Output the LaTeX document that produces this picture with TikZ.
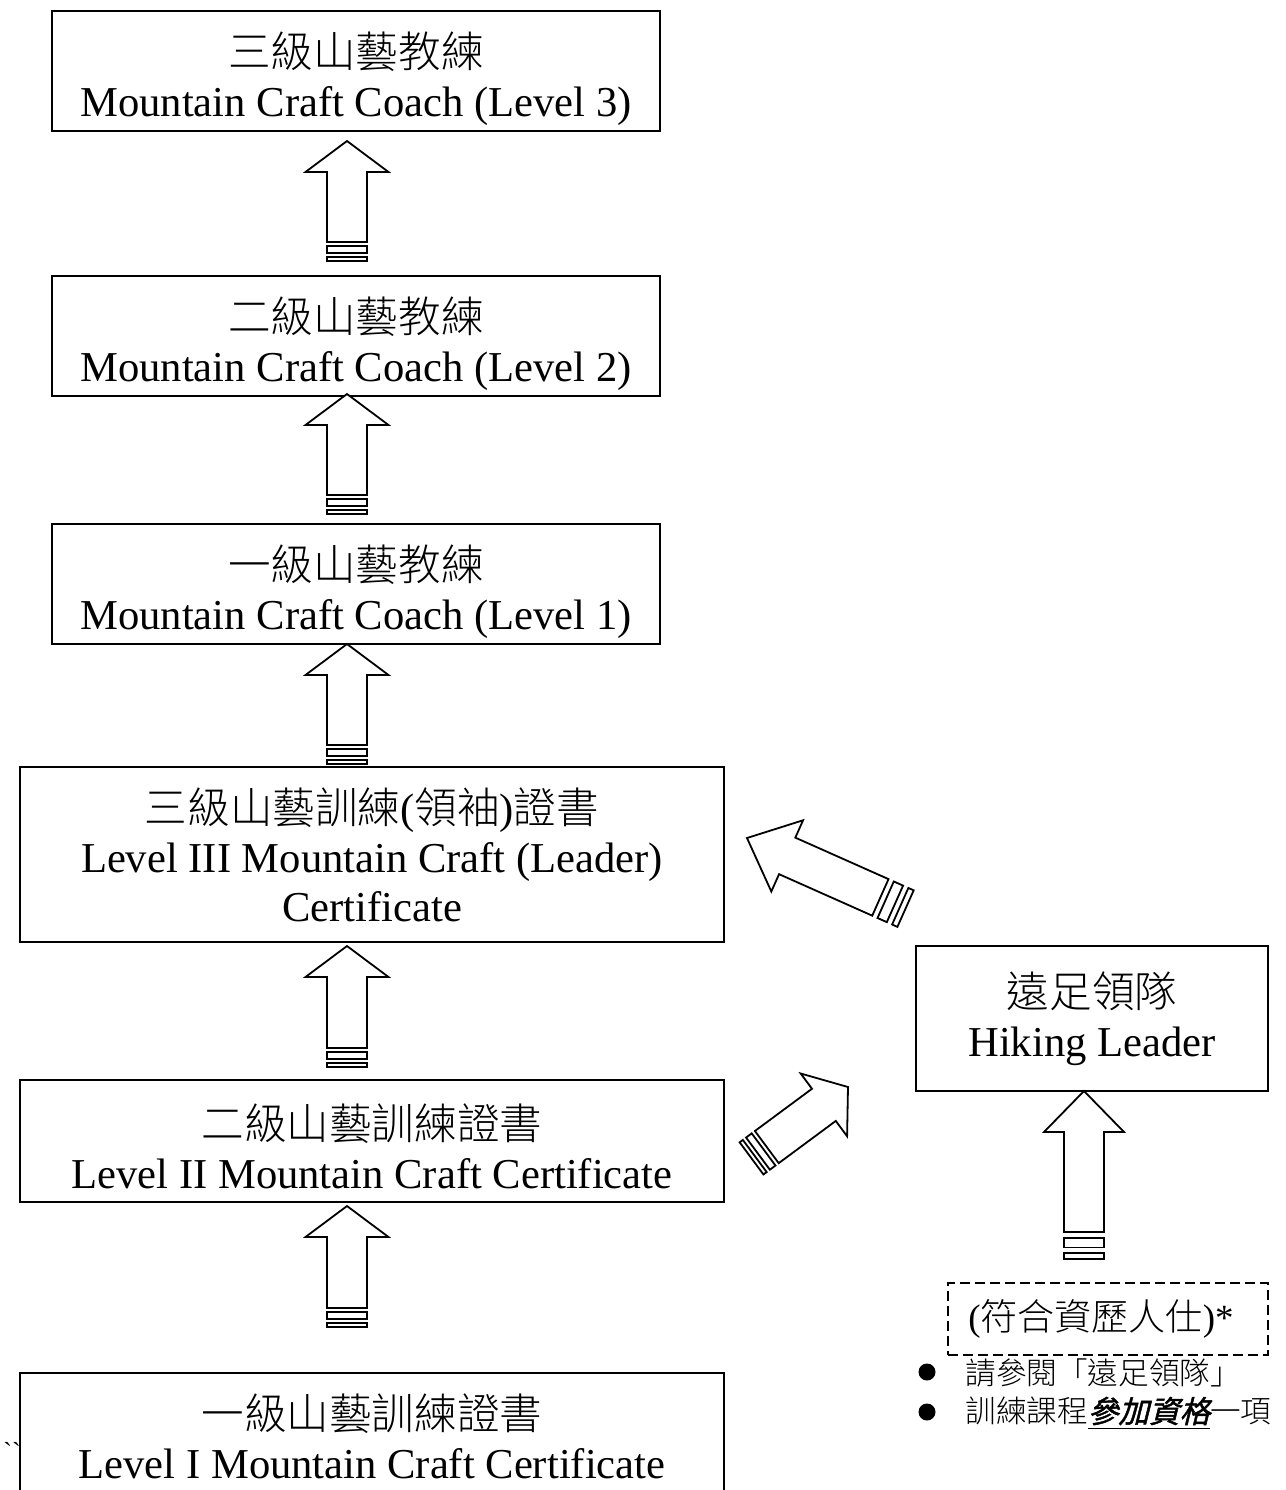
\documentclass[tikz,border=0pt]{standalone}
\usepackage{fontspec}
\usepackage{tikz}
\setmainfont{Liberation Serif}
\newfontfamily\cjk{Noto Sans CJK TC Light}
\newfontfamily\cjkemph{Noto Sans CJK TC}[FakeBold=1.5,FakeSlant=0.25]

\tikzset{
  box/.style={draw, line width=0.9pt, align=center, inner sep=0pt,
    font=\fontsize{21.3}{24.5}\selectfont},
  qualbox/.style={draw, line width=0.9pt, dash pattern=on 5pt off 2.5pt,
    inner sep=0pt, font=\fontsize{18.5}{22}\selectfont},
  notetext/.style={anchor=west, inner sep=0pt, font=\fontsize{15.3}{18}\selectfont\cjk},
  bullet/.style={circle, fill, inner sep=0pt, minimum size=8.5pt},
  arrowline/.style={line width=0.9pt, fill=white},
  % block arrow: head length, head half width, shaft length, stripe factor
  pics/blockarrow/.style n args={4}{code={
    \draw[arrowline] (0,0) -- (#2,#1) -- (20,#1) -- (20,#1+#3) -- (-20,#1+#3)
      -- (-20,#1) -- (-#2,#1) -- cycle;
    \draw[arrowline] (-20,#1+#3+4*#4) rectangle (20,#1+#3+11*#4);
    \draw[arrowline] (-20,#1+#3+15*#4) rectangle (20,#1+#3+19*#4);
  }}
}
% pushes the text of a box down a little
\newcommand{\lowerby}[1]{\rule{0pt}{#1}}

\begin{document}
\begin{tikzpicture}[x=0.5pt, y=-0.5pt]
  \clip[use as bounding box] (0,0) rectangle (1286,1490);

  % Coach levels
  \node[box, minimum width=304pt, minimum height=60pt] (coach3) at (356,71)
    {\lowerby{26pt}{\cjk 三級山藝教練}\\Mountain Craft Coach (Level 3)};
  \node[box, minimum width=304pt, minimum height=60pt] (coach2) at (356,336)
    {\lowerby{26pt}{\cjk 二級山藝教練}\\Mountain Craft Coach (Level 2)};
  \node[box, minimum width=304pt, minimum height=60pt] (coach1) at (356,584)
    {\lowerby{26pt}{\cjk 一級山藝教練}\\Mountain Craft Coach (Level 1)};

  % Certificates
  \node[box, minimum width=352pt, minimum height=87.5pt] (cert3) at (372,854.5)
    {{\cjk 三級山藝訓練}({\cjk 領袖}){\cjk 證書}\\Level III Mountain Craft (Leader)\\Certificate};
  \node[box, minimum width=352pt, minimum height=61pt] (cert2) at (372,1141)
    {\lowerby{23pt}{\cjk 二級山藝訓練證書}\\Level II Mountain Craft Certificate};
  \node[box, minimum width=352pt, minimum height=63.5pt] (cert1) at (372,1436.5)
    {{\cjk 一級山藝訓練證書}\\Level I Mountain Craft Certificate};
  \node[anchor=base west, inner sep=0pt, font=\fontsize{13}{14}\selectfont] (tick) at (3,1460)
    {\textasciigrave\textasciigrave};

  % Hiking leader
  \node[box, minimum width=176pt, minimum height=72.5pt] (hiking) at (1092,1018.5)
    {{\cjk 遠足領隊}\\Hiking Leader};
  \node[qualbox, minimum width=160pt, minimum height=36pt] (qualified) at (1108,1319)
    {({\cjk 符合資歷人仕})*\kern7pt};

  % Notes
  \node[bullet] (bul1) at (927,1372) {};
  \node[bullet] (bul2) at (927,1412) {};
  \node[notetext] (note1) at (965,1373) {請參閱「遠足領隊」};
  \node[notetext] (note2) at (965,1413)
    {訓練課程\underline{\cjkemph 參加資格}一項};

  % Arrow tips
  \coordinate (to-coach3) at (347,141);
  \coordinate (to-coach2) at (347,394);
  \coordinate (to-coach1) at (347,644);
  \coordinate (to-cert3) at (347,946);
  \coordinate (to-cert2) at (347,1206);
  \coordinate (to-hiking) at (1084,1091);
  \coordinate (hiking-cert3) at (747,838);
  \coordinate (cert2-hiking) at (848,1087);

  % Block arrows
  \pic at (to-coach3) {blockarrow={31}{41.5}{70}{1}};
  \pic at (to-coach2) {blockarrow={31}{41.5}{70}{1}};
  \pic at (to-coach1) {blockarrow={31}{41.5}{70}{1}};
  \pic at (to-cert3) {blockarrow={31}{41.5}{71}{1}};
  \pic at (to-cert2) {blockarrow={31}{41.5}{71}{1}};
  \pic at (to-hiking) {blockarrow={41}{40}{100}{1.4}};
  \pic[rotate=66] at (hiking-cert3) {blockarrow={44}{39}{102}{1.45}};
  \pic[rotate=-53.5] at (cert2-hiking) {blockarrow={30}{39}{71}{1}};
\end{tikzpicture}
\end{document}
